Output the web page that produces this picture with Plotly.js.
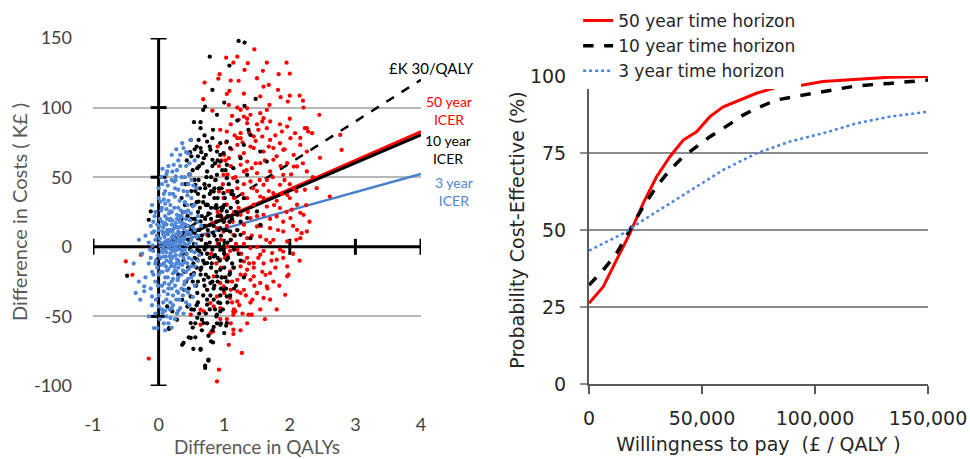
<!DOCTYPE html>
<html><head><meta charset="utf-8">
<script src="https://cdn.plot.ly/plotly-3.0.1.min.js"></script>
<style>html,body{margin:0;padding:0;background:#fff}#chart{width:970px;height:459px}</style>
</head><body><div id="chart"></div>
<script>
// ---- Left panel: cost-effectiveness plane (Difference in QALYs, Difference in Costs K£) ----
const red50 = [
[1.46,141.9],[1.03,135.9],[1.2,136.6],[1.14,132.3],[1.36,131.9],[1.65,132.3],[1.95,132.3],[1.31,127.1],[1.59,126.4],[0.93,124],[0.91,120.8],[1.83,124],[2.0,124.4],[1.5,121.1],[1.1,119.4],[1.22,119.2],[0.7,118],[1.68,116.3],[1.82,112.7],[1.08,112],[1.04,109.8],[1.86,107.5],[2.0,108.6],[2.2,105],[2.15,108.6],[0.68,106],[1.97,104.3],[2.21,100],[0.82,97.8],[1.07,101.9],[1.69,101.9],[1.25,98.3],[1.35,99.5],[1.55,96],[1.65,98.3],[1.6,92.4],[1.4,94.8],[1.3,93.5],[1.12,94],[1.22,91.2],[1.35,88.8],[0.94,84],[1.04,82.8],[1.52,84],[1.88,82.8],[1.96,86.4],[2.23,85.2],[2.28,82.8],[2.08,81.6],[1.65,85.2],[1.58,79.2],[1.25,81.6],[1.2,78],
[2.45,94.8],[2.26,85.2],[2.34,81.6],[2.79,69.6],[2.77,80.4],[2.16,78.2],[2.46,63.9],[2.61,36.1],[2.41,42.1],[2.18,9.8],[2.16,24.4],[1.96,-21.3],[1.93,-34.5],[2.03,26.6],[2.0,45],[2.06,57.6],[1.6,-36.8],[1.37,-48.8],[1.42,-48.8],[1.14,-59.6],[1.07,-70.4],[1.27,-76.3],[0.92,-88.3],[0.89,-96.7],[0.79,-62],[-0.15,-80.3],[-0.5,-10.5],[-0.4,-20.1],[-0.27,-5.7],[-0.1,-1],[0.64,-56],[1.14,-48.8],
[1.14,-62.7],[0.83,-60.8],[0.94,-51.9],[1.04,-51.9],[1.14,-46.4],[1.28,-48],[1.63,-20.1],[1.73,-4.5],[1.9,-3.4],
[1.3,-10.5],[1.35,-16.5],[1.45,-21.3],[1.55,-26],[1.2,-23.7],[1.1,-30.9],[1.0,-33.2],[1.2,-39.3],[1.25,-33.2],[0.94,-26],[1.17,-46.4],[0.84,-42.9],[0.69,-46.4],[0.49,-48.8],
[1.25,78],[1.45,79.3],[1.7,76.8],[1.85,74.4],[2.01,78],[2.16,73.2],[2.26,68.4],[2.06,66],[1.9,69.7],[1.75,70.9],[1.6,68.4],[1.45,70.9],[1.3,67.3],[1.2,73.2],[1.35,61.2],[1.55,60.1],[1.75,62.5],[1.96,60.1],[2.11,57.7],[2.26,54.1],[1.9,51.7],[1.7,54.1],[1.5,52.9],[1.3,54.1],[1.14,49.3],[1.4,46.9],[1.6,44.5],[1.85,44.5],[2.06,42.1],[2.23,41],[1.96,37.3],[1.75,38.5],[1.55,36.1],[1.35,34.9],[1.2,32.5],[1.45,30.2],[1.65,28.9],[1.85,27.8],[2.11,30.2],[1.8,21.8],[2.01,20.6],[2.21,23],[1.6,23],[1.4,20.6],[1.25,23],[1.09,18.2],[1.3,15.8],[1.5,14.6],[1.7,13.4],[1.9,11],[2.11,12.2],[1.14,8.6],[1.35,6.2],[1.55,7.4],[1.75,5],[0.99,11],[0.94,23],[1.04,30.2],[0.89,13.4],[0.74,8.6],[0.82,17],[1.96,3.8],[2.16,6.2],[2.26,11],[1.42,56.5],[1.25,58.9],[1.07,63.7],[0.99,51.7],[0.92,39.7],[0.87,28.9],
[1.04,0.2],[1.2,-2.2],[1.4,-0.9],[1.55,-5.7],[1.8,-9.3],[1.45,-11.7],[1.25,-14.1],[1.09,-17.7],[0.94,-9.3],[0.84,-21.3],[0.99,-28.5],[1.3,-30.9],[1.5,-33.2],[1.65,-28.5],[1.09,-36.8],[0.89,-35.7],[1.4,-23.7],[1.7,-18.9],[1.96,-14.1],[0.74,-30.9],[0.79,-40.4],[0.94,-44],[0.64,-45.2],
[1.1,5],[1.2,12],[1.0,18],[1.15,25],[1.3,2],[1.6,-3],[0.9,2],[1.05,-6],[1.35,-8],[1.5,0],[1.7,3],[1.25,-20],[1.12,-25],[1.45,-15],[1.6,-12],[0.95,-15],[0.8,-5],[1.05,40],[1.15,35],[0.98,45],[1.1,58],[1.2,42],[1.0,66],[0.9,72],[1.3,45],[1.5,40],[1.65,48],[1.8,33],[2.0,35],[1.9,18],[2.1,5],[2.05,-5],[1.85,-2],[1.75,-25],[1.4,-40],[1.15,-45],[1.85,88],[1.7,90],[1.5,88],[1.35,92],[1.1,88],[1.3,110],[1.55,108],[1.2,100],[1.6,115],
[0.86,48],[0.88,-12],[0.9,25],[0.92,58],[0.95,5],[0.97,-22],[0.99,35],[1.01,-8],[1.02,62],[1.04,15],[1.06,-25],[1.08,40],[1.09,-3],[1.11,70],[1.13,18],[1.15,-15],[1.17,50],[1.18,2],[1.2,-32],[1.22,28],[1.24,65],[1.26,-5],[1.28,38],[1.3,10],[1.32,-20],[1.34,55],[1.36,25],[1.38,-12],[1.4,72],[1.42,8],[1.44,42],[1.46,-28],[1.48,60],[1.5,22],[1.52,-8],[1.54,48],[1.56,15],[1.58,-18],[1.6,35],[1.62,62],[1.64,5],[1.66,-30],[1.68,40],[1.7,20],[1.72,-10],[1.74,50],[1.76,30],[1.78,-15],[1.8,65],[1.82,12],[1.84,-28],[1.86,58],[1.88,38],[1.9,-8],[1.92,48],[1.95,25],[1.98,-20],[2.02,52],[2.05,15],[2.1,40],[2.15,-10],[2.2,60],[2.25,30],[2.3,18],[2.35,50],[1.05,52],[1.12,-40],[1.23,-42],[1.33,-35],[1.43,-38],[1.16,80],[1.28,75],[1.38,82],[1.48,76],[1.58,90],[1.68,72],[1.78,80],[1.92,70],[2.0,92],[0.96,62],[1.03,75],[1.1,-55],[1.25,-60],[1.35,-55],[1.55,-45],[1.7,-38],[1.8,-45],[1.62,-52]
];
const black10 = [
[1.22,147.9],[1.31,146.7],[0.78,136.6],[1.08,130.2],[0.82,112.7],[1.48,106.2],[1.0,103.6],[0.71,100.7],[0.68,98.3],[1.31,101.2],[0.89,94.8],[0.54,89.5],[0.64,89.5],[0.64,85.2],[0.83,84],[1.2,90.7],[1.37,84],[1.4,80.4],
[-0.48,-20.8],[0.16,-59],[0.36,-70.4],[0.46,-65],[0.56,-65],[0.53,-73.4],[0.64,-73.4],[0.76,-81.8],[0.71,-85.4],[0.83,-68.7],[0.94,-56],[1.03,-56.7],[0.84,-57.6],[0.76,-63.9],[0.69,-54.8],[0.49,-54.8],[0.59,-51],[0.66,-52.4],[0.89,-48.7],[0.94,-46.4],[0.28,-52.4],[0.21,-46.4],[0.13,-42.9],[0.36,-38.1],
[0.44,-42.9],[0.54,-45.2],[0.74,-41.6],[0.84,-38],[0.94,-40.4],[1.04,-35.7],[0.99,-30.9],[0.74,-30.9],[0.59,-33.2],[0.49,-35.7],[0.39,-30.9],[0.69,-23.7],[0.79,-26],[0.89,-21.3],[0.64,-16.5],[0.54,-18.9],[1.04,-24.9],[1.09,-18.9],[0.94,-16.5],[0.74,-11.7],[0.59,-9.3],[0.84,-7],[0.94,-2.2],[0.74,0.2],[0.59,-2.2],[1.04,-9.3],
[0.38,-69.1],[0.64,-74],[0.49,-65.5],[0.76,-81],[0.71,-87],[0.16,-58.4],[-0.15,19.4],[-0.12,25.4],[-0.1,-2],[-0.02,-9.3],[1.04,-54.8],[0.89,-55],
[0.49,76.8],[0.61,76.8],[0.74,75.6],[0.82,78],[0.94,74.4],[1.04,75.6],[0.64,70.9],[0.79,69.7],[0.89,68.4],[0.99,67.3],[0.69,63.7],[0.82,62.5],[0.94,61.2],[1.04,58.9],[1.14,56.5],[0.59,56.5],[0.74,54.1],[0.89,51.7],[1.04,49.3],[1.2,46.9],[0.56,44.5],[0.71,42.1],[0.84,39.7],[0.99,38.5],[1.14,37.3],[1.3,34.9],[0.61,32.5],[0.74,30.2],[0.89,27.8],[1.04,25.4],[1.2,23],[1.35,20.6],[0.64,18.2],[0.79,15.8],[0.94,13.4],[1.09,11],[1.25,8.6],[1.4,6.2],[0.51,11],[1.5,25.4],[1.55,15.8],[1.35,51.7],[1.25,63.7],[1.09,70.9],[1.3,73.2],[1.55,68.4],[1.65,61.2],
[0.5,20],[0.55,10],[0.6,25],[0.65,5],[0.7,15],[0.75,30],[0.8,20],[0.85,8],[0.9,35],[0.95,22],[1.0,12],[1.05,3],[1.1,28],[0.5,40],[0.55,48],[0.6,38],[0.7,45],[0.8,50],[0.85,42],[0.65,-5],[0.7,-12],[0.8,-15],[0.9,-8],[1.0,-5],[0.55,-8],[0.5,-20],[0.6,-25],[0.72,-20],[0.85,-28],[0.95,-30],[0.45,5],[0.48,-2],[0.42,15],[0.4,30],[0.45,45],[0.52,55],[0.62,58],[0.68,32],[0.78,38],[0.88,18],[0.98,28],[1.08,18],[1.15,-2],[1.12,-12],[0.62,12],[0.72,2],[0.82,-2],[0.92,2],[0.58,32],[0.66,22],[0.76,8],[0.86,28],[0.96,42],[1.02,55],[0.9,62],[0.6,65],[0.35,35],[0.38,-10],[0.42,-25],[0.3,-20],[0.35,20],[0.55,70],[0.7,80],[0.48,68],[0.58,-15],[0.68,-35],[0.78,-45],[0.88,-50],[0.62,-48],[0.52,-58],[1.12,40],[1.18,25],[1.2,12],[1.25,-10],[1.3,-22],[1.15,-30],[1.05,-40],[0.95,-55],[1.0,-62],[0.82,-60],
[0.42,-5],[0.44,22],[0.46,-30],[0.47,52],[0.49,12],[0.5,-45],[0.51,30],[0.53,-12],[0.54,2],[0.56,40],[0.57,-28],[0.58,18],[0.6,-40],[0.61,48],[0.62,-3],[0.63,28],[0.64,-20],[0.66,8],[0.67,60],[0.68,-10],[0.69,36],[0.7,-28],[0.71,20],[0.72,-48],[0.73,50],[0.74,-5],[0.75,12],[0.76,-22],[0.77,44],[0.78,3],[0.79,-35],[0.8,28],[0.81,-12],[0.82,58],[0.83,10],[0.84,-30],[0.85,35],[0.86,-6],[0.87,48],[0.88,-18],[0.89,5],[0.9,22],[0.91,-40],[0.92,42],[0.93,-10],[0.95,8],[0.96,-22],[0.97,55],[0.98,-2],[0.99,18],[1.0,-15],[1.01,35],[1.03,-30],[1.04,12],[1.06,-8],[1.07,45],[1.08,-20],[1.1,5],[1.12,20],[1.14,-15],[1.16,8],[1.18,-28],[1.2,32],[1.22,-5],[1.25,18],[0.45,-15],[0.52,-25],[0.55,20],[0.58,-42],[0.6,6],[0.63,42],[0.65,-15],[0.67,15],[0.7,-2],[0.72,30],[0.74,-38],[0.76,24],[0.78,-8],[0.8,40],[0.82,-25],[0.84,15],[0.86,-45],[0.88,30],[0.9,-25],[0.92,12],[0.94,-35],[0.96,26],[0.98,-45],[1.0,30],[1.02,-22],[1.05,22],[1.09,-35],[1.11,38],[0.38,10],[0.36,-5],[0.4,-18],[0.41,45],[0.33,0],[0.37,25],[0.43,62],[0.5,65],[0.58,72],[0.65,68],[0.72,66],[0.78,72],[0.86,60],[0.94,66],[0.56,-55],[0.66,-60],[0.74,-55],[0.8,-68]
];
const blue3 = [
[-0.35,-33.2],[-0.22,-32],[-0.1,-35.7],[-0.02,-58.4],[0.06,-47.6],[0.18,-51.2],[0.0,-42.9],[-0.22,-28.5],[-0.15,-50],[-0.07,-58.4],[0.36,74.4],[0.26,50.5],
[0.38,70.9],[0.23,58.9],[0.13,54.1],[0.24,46.9],[0.44,39.7],[0.03,32.5],[0.18,25.4],[0.33,20.6],[0.08,15.8],[-0.07,11],[0.49,8.6],
[0.05,45],[0.12,52],[0.2,48],[0.28,55],[0.35,50],[0.42,58],[0.15,58],[0.3,62],[0.45,45],[0.1,40],[0.25,42],[0.38,40],[0.48,52],
[-0.05,25],[0.0,35],[0.05,28],[0.1,22],[0.15,33],[0.2,25],[0.25,36],[0.3,28],[0.35,22],[0.4,32],[0.45,26],[0.5,35],[0.55,30],[0.08,38],[0.18,30],[0.28,20],[0.38,25],[0.12,27],[0.22,38],[0.32,33],[0.42,20],[0.6,22],[-0.1,30],[0.02,20],
[-0.2,8],[-0.12,15],[-0.05,5],[0.0,12],[0.05,18],[0.08,3],[0.1,10],[0.12,16],[0.15,5],[0.18,12],[0.2,1],[0.22,8],[0.25,15],[0.28,4],[0.3,11],[0.32,18],[0.35,6],[0.38,13],[0.4,2],[0.42,9],[0.45,15],[0.5,5],[0.55,12],[0.6,8],[0.02,6],[0.07,14],[0.13,1],[0.17,19],[0.23,13],[0.27,9],[0.33,2],[0.37,17],[0.43,11],[0.48,19],[-0.08,18],[0.65,15],[0.2,16],[0.26,0.5],[0.14,9],[0.31,6],
[-0.25,-5],[-0.15,-12],[-0.08,-3],[-0.02,-15],[0.03,-8],[0.06,-18],[0.1,-2],[0.12,-10],[0.15,-16],[0.18,-5],[0.2,-12],[0.22,-19],[0.25,-3],[0.28,-9],[0.3,-15],[0.33,-6],[0.36,-13],[0.4,-2],[0.42,-18],[0.46,-8],[0.5,-14],[0.55,-4],[0.08,-12],[0.16,-1],[0.24,-14],[0.32,-1],[0.38,-8],[0.44,-12],[0.05,-3],[0.27,-18],[-0.1,-18],[0.6,-10],[0.0,-6],[0.19,-9],
[-0.3,-25],[-0.2,-22],[-0.12,-30],[-0.05,-25],[0.0,-35],[0.05,-28],[0.1,-22],[0.12,-38],[0.15,-30],[0.2,-25],[0.22,-35],[0.25,-28],[0.3,-22],[0.32,-38],[0.35,-30],[0.4,-25],[0.45,-33],[0.5,-22],[0.08,-32],[0.18,-40],[0.28,-32],[0.42,-40],[0.55,-28],
[0.05,-45],[0.12,-50],[0.2,-44],[0.25,-52],[0.3,-46],[0.38,-48],[0.15,-55],[-0.05,-48],[0.1,-60],
[0.15,2],[0.21,-3],[0.18,4],[0.24,6],[0.12,-4],[0.29,-2],[0.17,-7],[0.23,3],[0.09,7],[0.34,10],[0.26,-6],[0.2,7],[0.16,12],[0.11,-7],[0.28,14],[0.19,-14],[0.13,20],[0.3,-10],[0.07,-1],[0.36,-4],
[-0.38,-12],[-0.3,5],[-0.28,-38],[0.49,76.8],[0.42,68],[0.55,62],[0.5,48],[0.58,42],
[-0.15,3],[-0.12,-8],[-0.1,10],[-0.08,-20],[-0.06,22],[-0.04,-10],[-0.03,8],[-0.01,-28],[0.01,15],[0.03,-18],[0.04,26],[0.06,-4],[0.07,9],[0.09,-26],[0.1,31],[0.11,-14],[0.13,12],[0.14,-22],[0.16,24],[0.17,-11],[0.19,2],[0.2,-30],[0.21,19],[0.23,-7],[0.24,28],[0.25,-17],[0.27,1],[0.28,23],[0.29,-24],[0.31,14],[0.32,-12],[0.34,26],[0.35,-20],[0.37,4],[0.39,-27],[0.41,16],[0.43,-5],[0.44,30],[0.46,-16],[0.47,3],[0.49,24],[0.51,-9],[0.52,14],[0.54,-20],[0.57,2],[0.59,18],[0.62,-6],
[-0.13,-2],[-0.09,1],[-0.05,-12],[-0.02,16],[0.0,-20],[0.02,3],[0.04,-13],[0.06,11],[0.08,-7],[0.1,17],[0.11,4],[0.13,-17],[0.15,10],[0.16,-27],[0.18,20],[0.19,-2],[0.21,11],[0.22,-23],[0.24,-1],[0.26,17],[0.27,-12],[0.29,8],[0.3,-33],[0.32,22],[0.34,-2],[0.35,15],[0.37,-17],[0.39,7],[0.4,-11],[0.42,25],[0.44,1],[0.45,-23],[0.48,10],[0.5,-3],[0.52,29],[0.55,-14],[0.58,7],
[0.0,42],[0.04,50],[0.08,34],[0.14,44],[0.17,38],[0.21,54],[0.26,48],[0.3,41],[0.33,58],[0.36,45],[0.4,50],[0.44,37],[0.47,60],[0.53,44],[0.2,66],[0.27,70],[0.33,66],[0.45,67],[0.06,56],[0.11,47],
[-0.1,-42],[-0.04,-38],[0.02,-52],[0.07,-40],[0.1,-46],[0.14,-34],[0.17,-45],[0.22,-42],[0.27,-38],[0.33,-44],[0.37,-35],[0.41,-31],[0.47,-42],[0.52,-36],[0.08,-55],[0.2,-58],[0.28,-48]
];
// ICER / threshold lines (through origin), end values at Difference in QALYs = 4
const lineQ = [0, 4];
const threshold30 = [0, 120];
const icer50 = [0, 82.8];
const icer10 = [0, 80.4];
const icer3 = [0, 52.4];
const leftXTicks = [-1, 0, 1, 2, 3, 4];
const leftXLabels = ['-1', '0', '1', '2', '3', '4'];
const leftYTicks = [-100, -50, 0, 50, 100, 150];
const leftYLabels = ['-100', '-50', '0', '50', '100', '150'];

// ---- Right panel: cost-effectiveness acceptability curves ----
const wtp = [0, 6300, 12200, 18100, 24000, 29900, 35800, 41700, 47600, 53500, 59400, 68200, 74100, 82900, 94700, 103500, 118300, 133000, 150000];
const p50 = [26.2, 31.6, 40.3, 48.9, 58.7, 67.3, 73.8, 79.2, 81.9, 86.8, 90.0, 92.7, 94.4, 96.3, 97.1, 98.2, 98.9, 99.6, 99.8];
const p10 = [32.1, 37.0, 42.4, 50.0, 57.6, 64.1, 69.5, 73.8, 77.1, 80.3, 83.0, 87.3, 89.5, 92.2, 93.8, 94.9, 96.8, 97.6, 98.7];
const wtp3 = [0, 15200, 24000, 35800, 47600, 59400, 74100, 88800, 103500, 118300, 133000, 150000];
const p3 = [43.3, 48.9, 53.2, 58.7, 64.1, 69.5, 74.9, 78.7, 81.4, 84.6, 86.8, 88.4];
const rightXTicks = [0, 50000, 100000, 150000];
const rightYTicks = [0, 25, 50, 75, 100];

const F1 = 'Lato, "Liberation Sans", sans-serif';
const F2 = '"DejaVu Sans", "Liberation Sans", sans-serif';
const RED = '#ff0000', BLK = '#000000', BLU = '#4f86d6';
const px = a => a.map(p => p[0]);
const py = a => a.map(p => p[1]);
const MS = 4.3;

const traces = [
  {x: lineQ, y: threshold30, mode: 'lines', line: {color: BLK, width: 2.5, dash: 'dash'}, showlegend: false, xaxis: 'x', yaxis: 'y'},
  {x: lineQ, y: icer50, mode: 'lines', line: {color: RED, width: 3}, showlegend: false, xaxis: 'x', yaxis: 'y'},
  {x: lineQ, y: icer10, mode: 'lines', line: {color: BLK, width: 3}, showlegend: false, xaxis: 'x', yaxis: 'y'},
  {x: lineQ, y: icer3, mode: 'lines', line: {color: '#4a7fcc', width: 2.5}, showlegend: false, xaxis: 'x', yaxis: 'y'},
  {x: px(red50), y: py(red50), mode: 'markers', marker: {color: RED, size: MS}, showlegend: false, xaxis: 'x', yaxis: 'y'},
  {x: px(black10), y: py(black10), mode: 'markers', marker: {color: BLK, size: MS}, showlegend: false, xaxis: 'x', yaxis: 'y'},
  {x: px(blue3), y: py(blue3), mode: 'markers', marker: {color: BLU, size: MS}, showlegend: false, xaxis: 'x', yaxis: 'y'},
  {x: wtp, y: p50, name: '50 year time horizon', mode: 'lines', line: {color: RED, width: 3}, xaxis: 'x2', yaxis: 'y2'},
  {x: wtp, y: p10, name: '10 year time horizon', mode: 'lines', line: {color: BLK, width: 3.5, dash: 'dash'}, xaxis: 'x2', yaxis: 'y2'},
  {x: wtp3, y: p3, name: '3 year time horizon', mode: 'lines', line: {color: '#4a86e0', width: 2.5, dash: 'dot'}, xaxis: 'x2', yaxis: 'y2'}
];

const shapes = [
  {type: 'line', xref: 'x', yref: 'y', x0: 0, x1: 0, y0: -100, y1: 150, line: {color: '#000', width: 3}, layer: 'between'},
  {type: 'line', xref: 'x', yref: 'y', x0: -1, x1: 4, y0: 0, y1: 0, line: {color: '#000', width: 3}, layer: 'between'}
];
leftYTicks.forEach(v => { if (v !== 0) shapes.push({type: 'line', xref: 'x', yref: 'y', xsizemode: 'pixel', xanchor: 0, x0: -8, x1: 8, y0: v, y1: v, line: {color: '#000', width: 3}, layer: 'between'}); });
leftXTicks.forEach(v => { if (v !== 0) shapes.push({type: 'line', xref: 'x', yref: 'y', ysizemode: 'pixel', yanchor: 0, y0: -8, y1: 8, x0: v, x1: v, line: {color: '#000', width: 3}, layer: 'between'}); });

const annotations = [
  {xref: 'paper', yref: 'paper', x: 0.4054, y: 0.8238, xanchor: 'center', yanchor: 'middle', text: '£K 30/QALY', showarrow: false, font: {family: F1, size: 15, color: BLK}},
  {xref: 'paper', yref: 'paper', x: 0.4263, y: 0.7150, xanchor: 'center', yanchor: 'middle', text: '50 year<br>ICER', align: 'center', showarrow: false, font: {family: F1, size: 14, color: RED}},
  {xref: 'paper', yref: 'paper', x: 0.4251, y: 0.6114, xanchor: 'center', yanchor: 'middle', text: '10 year<br>ICER', align: 'center', showarrow: false, font: {family: F1, size: 14, color: BLK}},
  {xref: 'paper', yref: 'paper', x: 0.4323, y: 0.5039, xanchor: 'center', yanchor: 'middle', text: '3 year<br>ICER', align: 'center', showarrow: false, font: {family: F1, size: 14, color: BLU}}
];

const layout = {
  width: 970, height: 459,
  margin: {l: 93, r: 42, t: 0, b: 73},
  paper_bgcolor: '#fff', plot_bgcolor: '#fff',
  showlegend: true,
  xaxis: {domain: [0, 0.3928], range: [-1, 4], tickvals: leftXTicks, ticktext: leftXLabels, showgrid: false, zeroline: false, showline: false, ticks: '',
    tickfont: {family: F1, size: 18, color: '#404040'}, ticklabelstandoff: 26,
    title: {text: 'Difference in QALYs', font: {family: F1, size: 19, color: '#595959'}, standoff: 6}},
  yaxis: {domain: [0, 0.90155], range: [-100, 150], tickvals: leftYTicks, ticktext: leftYLabels, showgrid: true, gridcolor: '#b8b8b8', gridwidth: 2, zeroline: false, showline: false, ticks: '',
    tickfont: {family: F1, size: 18, color: '#404040'}, ticklabelstandoff: 20,
    title: {text: 'Difference in Costs ( K£ )', font: {family: F1, size: 20, color: '#595959'}, standoff: 0}},
  xaxis2: {domain: [0.594, 1], anchor: 'y2', range: [0, 150000], tickvals: rightXTicks, tickformat: ',d', showgrid: false, zeroline: false,
    showline: true, linecolor: '#595959', linewidth: 2, ticks: 'outside', ticklen: 8, tickwidth: 2, tickcolor: '#595959',
    tickfont: {family: F2, size: 19, color: '#262626'}, ticklabelstandoff: 8,
    title: {text: 'Willingness to pay\u00a0\u00a0(£ / QALY )', font: {family: F2, size: 19, color: '#262626'}, standoff: 10}},
  yaxis2: {domain: [0.00518, 0.80311], anchor: 'x2', range: [0, 100], tickvals: rightYTicks, showgrid: true, gridcolor: '#8c8c8c', gridwidth: 1.5, zeroline: false,
    showline: true, linecolor: '#595959', linewidth: 2, ticks: 'outside', ticklen: 7, tickwidth: 1.5, tickcolor: '#8c8c8c',
    tickfont: {family: F2, size: 19, color: '#262626'}, ticklabelstandoff: 10,
    title: {text: 'Probability Cost-Effective (%)', font: {family: F2, size: 19, color: '#262626'}, standoff: 0}},
  legend: {x: 0.581, y: 0.9922, xanchor: 'left', yanchor: 'top', bgcolor: '#ffffff', borderwidth: 0,
    font: {family: F2, size: 17, color: '#262626'}, tracegroupgap: 0},
  shapes: shapes,
  annotations: annotations
};

Plotly.newPlot('chart', traces, layout, {staticPlot: true, displayModeBar: false});
</script>
</body></html>
